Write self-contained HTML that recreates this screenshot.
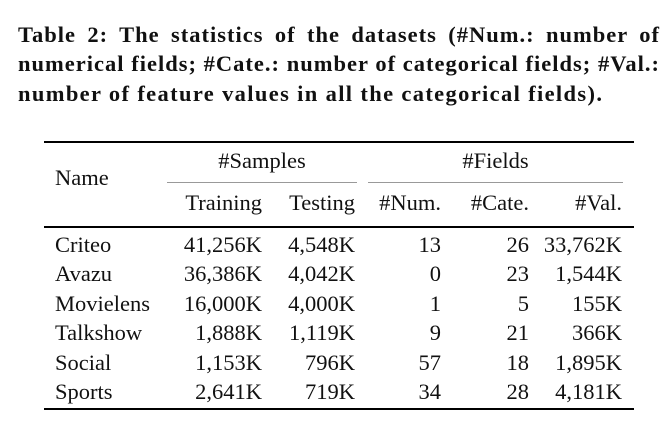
<!DOCTYPE html>
<html><head><meta charset="utf-8"><style>
body{margin:0;width:668px;height:424px;background:#fff;position:relative;font-family:"Liberation Serif",serif;color:#111;overflow:hidden}
.cl{position:absolute;left:18px;width:642px;font-weight:bold;font-size:22.5px;letter-spacing:1px;line-height:26px;white-space:nowrap;text-align:justify;text-align-last:justify}
.t{position:absolute;font-size:22.5px;line-height:26px;white-space:nowrap}
.r{text-align:right}
.rule{position:absolute;background:#000}
</style></head><body>
<div>
<div class="cl" style="top:22px">Table 2: The statistics of the datasets (#Num.: number of</div>
<div class="cl" style="top:51px">numerical fields; #Cate.: number of categorical fields; #Val.:</div>
<div class="cl" style="top:81px;text-align-last:left;letter-spacing:1.35px">number of feature values in all the categorical fields).</div>
</div>
<div class="rule" style="left:44px;top:141px;width:590px;height:2px"></div>
<div class="rule" style="left:167px;top:182px;width:190px;height:1px;background:#999"></div>
<div class="rule" style="left:368px;top:182px;width:255px;height:1px;background:#999"></div>
<div class="rule" style="left:44px;top:226px;width:590px;height:2px"></div>
<div class="rule" style="left:44px;top:408px;width:590px;height:2px"></div>
<div class="t" style="left:55px;top:165px">Name</div>
<div class="t" style="left:167px;width:190px;top:148px;text-align:center">#Samples</div>
<div class="t" style="left:368px;width:255px;top:148px;text-align:center">#Fields</div>
<div id="tbl"></div>
<script>
const names=["Criteo","Avazu","Movielens","Talkshow","Social","Sports"];
const training=["41,256K","36,386K","16,000K","1,888K","1,153K","2,641K"];
const testing=["4,548K","4,042K","4,000K","1,119K","796K","719K"];
const numF=["13","0","1","9","57","34"];
const cateF=["26","23","5","21","18","28"];
const vals=["33,762K","1,544K","155K","366K","1,895K","4,181K"];
const heads=["Training","Testing","#Num.","#Cate.","#Val."];
const rights=[262,355,441,529,622];
const root=document.getElementById('tbl');
function put(txt,x,y,right,name){const d=document.createElement('div');d.className='t'+(right?' r':'');


d.textContent=txt;d.style.top=y+'px';
if(right){d.style.right=(668-x)+'px';}else d.style.left=x+'px';root.appendChild(d);}
heads.forEach((h,i)=>put(h,rights[i],190,true,'column-header'));
const cols=[training,testing,numF,cateF,vals];
names.forEach((n,r)=>{const y=232+r*29.4;put(n,55,y,false,'row-name');
cols.forEach((c,i)=>put(c[r],rights[i],y,true,'cell'));});
</script>
</body></html>
